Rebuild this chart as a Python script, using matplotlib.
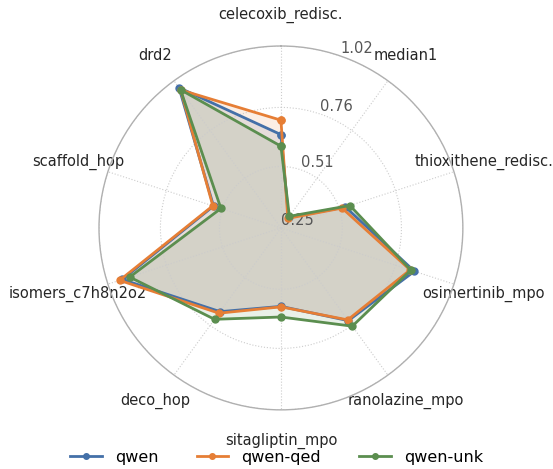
import numpy as np
import matplotlib
matplotlib.use("Agg")
import matplotlib.pyplot as plt

# tasks, clockwise from the top
tasks = ["celecoxib_redisc.", "median1", "thioxithene_redisc.", "osimertinib_mpo",
         "ranolazine_mpo", "sitagliptin_mpo", "deco_hop", "isomers_c7h8n2o2",
         "scaffold_hop", "drd2"]

models = ["qwen", "qwen-qed", "qwen-unk"]

qwen     = [0.645, 0.305, 0.537, 0.844, 0.735, 0.582, 0.688, 0.956, 0.550, 0.984]
qwen_qed = [0.706, 0.300, 0.522, 0.825, 0.731, 0.584, 0.696, 0.968, 0.553, 0.972]
qwen_unk = [0.596, 0.311, 0.557, 0.828, 0.764, 0.627, 0.728, 0.923, 0.517, 0.973]

r_ticks = [0.25, 0.51, 0.76, 1.02]

colors = ["#4470a8", "#e67e35", "#5b8e4f"]

fig = plt.figure(figsize=(5.53, 4.69), dpi=100)
ax = fig.add_axes([0.179, 0.126, 0.658, 0.776], polar=True)
ax.set_theta_zero_location("N")
ax.set_theta_direction(-1)

angles = np.linspace(0, 2 * np.pi, len(tasks), endpoint=False)
ang_closed = np.concatenate([angles, angles[:1]])

for name, vals, c in zip(models, [qwen, qwen_qed, qwen_unk], colors):
    v = np.array(vals + vals[:1])
    ax.plot(ang_closed, v, color=c, lw=2, marker="o", ms=5, label=name)
    ax.fill(ang_closed, v, color=c, alpha=0.13)

ax.set_ylim(r_ticks[0], r_ticks[-1])
ax.set_yticks(r_ticks)
ax.set_yticklabels(["%.2f" % t for t in r_ticks], color="#555555", fontsize=10.5)
ax.set_rlabel_position(19)
ax.set_xticks(angles)
ax.set_xticklabels(tasks, fontsize=10.5, color="#262626")
ax.tick_params(axis="x", pad=12)

ax.grid(True, color="#cccccc", linestyle=":", linewidth=0.8)
ax.spines["polar"].set_color("#b0b0b0")
ax.spines["polar"].set_linewidth(1.0)

fig.legend(loc="lower center", bbox_to_anchor=(0.5, -0.022), ncol=3, frameon=False,
           fontsize=11.5, handlelength=2.0, columnspacing=2.4, markerscale=0.8)

fig.savefig("out.png", dpi=100)
